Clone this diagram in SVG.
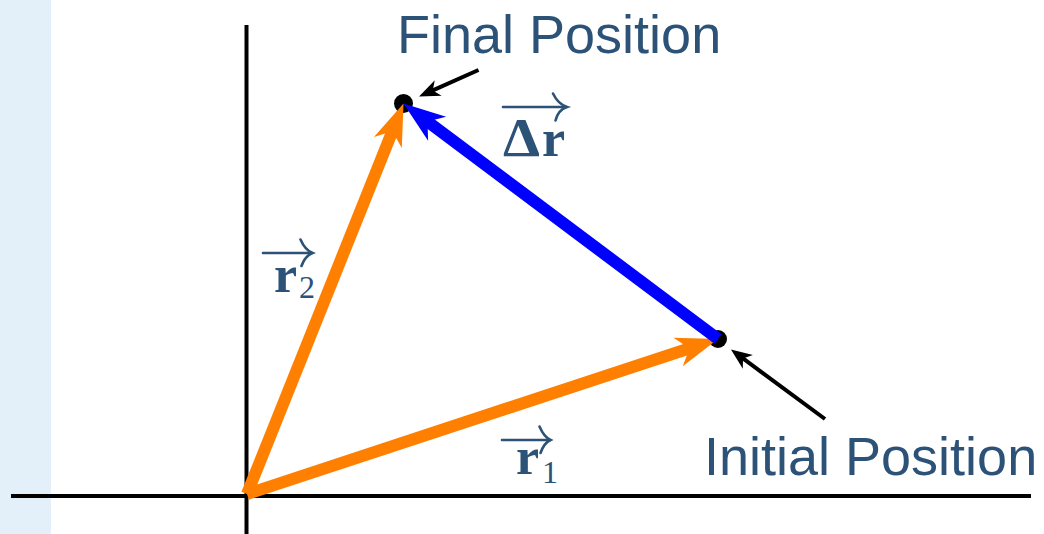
<svg xmlns="http://www.w3.org/2000/svg" width="1044" height="534" viewBox="0 0 1044 534">
  <style>
    .axis { stroke: #000; stroke-width: 4; fill: none; }
    .vec { stroke-width: 12; fill: none; stroke-linecap: butt; }
    .ptr { stroke: #000; stroke-width: 4; fill: none; }
    .dot { fill: #000; }
    .lbl { font-family: "Liberation Sans", Arial, sans-serif; font-size: 54px; fill: #2c5277; }
    .math { font-family: "Liberation Serif", "Times New Roman", serif; font-weight: bold; fill: #2c5277; }
    .sub { font-family: "Liberation Serif", "Times New Roman", serif; font-weight: normal; fill: #2c5277; font-size: 32px; }
    .acc { stroke: #2c5277; stroke-width: 2.6; fill: none; stroke-linecap: round; }
  </style>
  <defs>
    <marker id="headOrange" markerUnits="userSpaceOnUse" viewBox="-20 -18 48 36" markerWidth="48" markerHeight="36" refX="0" refY="0" orient="auto">
      <path d="M25,0 L-17,-15 L-5,0 L-17,15 Z" fill="#ff8000"/>
    </marker>
    <marker id="headBlue" markerUnits="userSpaceOnUse" viewBox="-20 -18 48 36" markerWidth="48" markerHeight="36" refX="0" refY="0" orient="auto">
      <path d="M25,0 L-17,-15 L-5,0 L-17,15 Z" fill="#0000ff"/>
    </marker>
    <marker id="headBlack" markerUnits="userSpaceOnUse" viewBox="-12 -10 26 20" markerWidth="26" markerHeight="20" refX="0" refY="0" orient="auto">
      <path d="M12,0 L-9,-8.5 L-3,0 L-9,8.5 Z" fill="#000"/>
    </marker>
  </defs>

  <rect id="band" x="0" y="0" width="51" height="534" fill="#e3f0f9"/>

  <g id="axes">
    <line class="axis" x1="246.5" y1="25" x2="246.5" y2="534"/>
    <line class="axis" x1="11" y1="496" x2="1031" y2="496"/>
  </g>

  <g id="initial-point">
    <circle class="dot" cx="718" cy="339" r="9"/>
  </g>
  <g id="final-point">
    <circle class="dot" cx="403.5" cy="103.5" r="9.5"/>
  </g>

  <g id="connectors">
    <line class="vec" stroke="#ff8000" x1="247" y1="494" x2="694.25" y2="346.8" marker-end="url(#headOrange)"/>
    <line class="vec" stroke="#ff8000" x1="247" y1="494" x2="394.2" y2="126.7" marker-end="url(#headOrange)"/>
    <line class="vec" stroke="#0000ff" x1="718" y1="339" x2="423.5" y2="118.5" marker-end="url(#headBlue)"/>
    <line class="ptr" x1="478.5" y1="70" x2="430" y2="91.6" marker-end="url(#headBlack)"/>
    <line class="ptr" x1="825" y1="419" x2="740.6" y2="356.6" marker-end="url(#headBlack)"/>
  </g>

  <g id="label-final">
    <text class="lbl" x="397" y="53">Final Position</text>
  </g>
  <g id="label-initial">
    <text class="lbl" x="704" y="475">Initial Position</text>
  </g>

  <g id="label-delta-r">
    <text class="math" x="503" y="156" font-size="54" textLength="37" lengthAdjust="spacingAndGlyphs">Δ</text>
    <text class="math" x="542" y="156" font-size="52">r</text>
    <line class="acc" x1="503" y1="107" x2="566" y2="107"/>
    <path class="acc" d="M553,93.5 Q558,104 567,107 Q558,110 555.5,120.5"/>
  </g>

  <g id="label-r1">
    <text class="math" x="516" y="474" font-size="52">r</text>
    <text class="sub" x="542" y="483">1</text>
    <line class="acc" x1="502" y1="440" x2="550" y2="440"/>
    <path class="acc" d="M539.5,426.5 Q544,437 550.5,440 Q544,443 540.5,453"/>
  </g>

  <g id="label-r2">
    <text class="math" x="274" y="292" font-size="52">r</text>
    <text class="sub" x="299" y="298">2</text>
    <line class="acc" x1="263" y1="253" x2="312" y2="253"/>
    <path class="acc" d="M300.5,239.5 Q305,250 312.5,253 Q305,256 301.5,266"/>
  </g>
</svg>
